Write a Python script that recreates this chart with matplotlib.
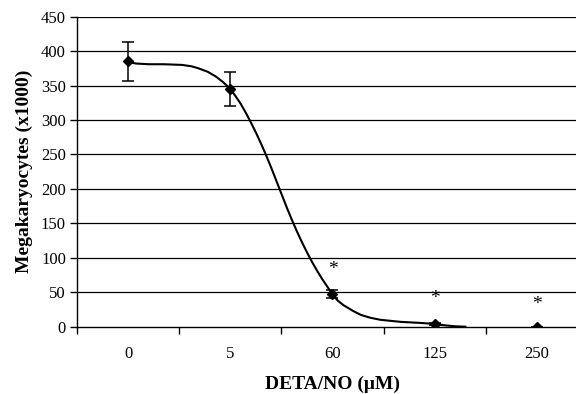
import matplotlib
matplotlib.use("Agg")
import matplotlib.pyplot as plt

plt.rcParams["font.family"] = ["Liberation Serif", "DejaVu Serif"]

# DETA/NO doses (categorical axis) and megakaryocyte counts (x1000)
doses = ["0", "5", "60", "125", "250"]
counts = [385, 345, 47, 4, 0]
count_err = [29, 25, 6, 2, 0]

# significance marks above the treated groups
star_pos = [2, 3, 4]
star_y = [92, 49, 41]

# trend curve, as positions along the category axis and values
curve_x = [0.0, 0.04, 0.08, 0.2, 0.35, 0.53, 0.62, 0.69, 0.78, 0.86, 0.93, 1.0,
           1.05, 1.1, 1.15, 1.2, 1.25, 1.3, 1.35, 1.4, 1.45, 1.5, 1.55, 1.6,
           1.65, 1.7, 1.75, 1.8, 1.85, 1.9, 1.95, 2.0, 2.05, 2.11, 2.2, 2.28,
           2.37, 2.47, 2.67, 2.86, 3.0, 3.1, 3.2, 3.3]
curve_y = [385, 383, 382, 381, 381, 380, 378, 375, 370, 363, 355, 345,
           335, 324, 311, 297, 282, 266, 249, 231, 212, 193, 174, 156,
           139, 123, 108, 94, 81, 69, 58, 47, 38, 31, 23, 17,
           13, 10, 7, 5.5, 4, 2, 0.6, 0]

fig = plt.figure(figsize=(5.76, 3.94), dpi=100)
ax = fig.add_axes([0.1337, 0.1708, 0.8871, 0.7868])

x = list(range(len(doses)))

for yv in range(50, 451, 50):
    ax.axhline(yv, color="black", linewidth=0.9, zorder=1)

ax.plot(curve_x, curve_y, color="black", linewidth=1.5, zorder=3)
ax.errorbar(x, counts, yerr=count_err, fmt="D", color="black", markersize=5.5,
            ecolor="black", elinewidth=1.1, capsize=4, capthick=1.1, zorder=4)

for sx, sy in zip(star_pos, star_y):
    ax.annotate("*", (sx, sy), xytext=(0, -7.5), textcoords="offset points",
                ha="center", va="baseline", fontsize=14)

ax.set_xlim(-0.5, 4.5)
ax.set_ylim(0, 450)
ax.set_yticks(range(0, 451, 50))
ax.set_xticks(x)
ax.set_xticklabels(doses)
ax.set_xticks([i + 0.5 for i in range(-1, 4)], minor=True)
ax.tick_params(axis="x", which="major", length=0, pad=14, labelsize=12)
ax.tick_params(axis="x", which="minor", length=5, width=1, direction="out")
ax.tick_params(axis="y", length=5, width=1, direction="out", labelsize=12, pad=3)

for side in ["top", "right"]:
    ax.spines[side].set_visible(False)
ax.spines["left"].set_linewidth(1)
ax.spines["bottom"].set_linewidth(1)

ax.set_xlabel("DETA/NO (\u03bcM)", fontsize=14, fontweight="bold", labelpad=10)
ax.set_ylabel("Megakaryocytes (x1000)", fontsize=14, fontweight="bold", labelpad=6)

fig.savefig("out.png", dpi=100)
